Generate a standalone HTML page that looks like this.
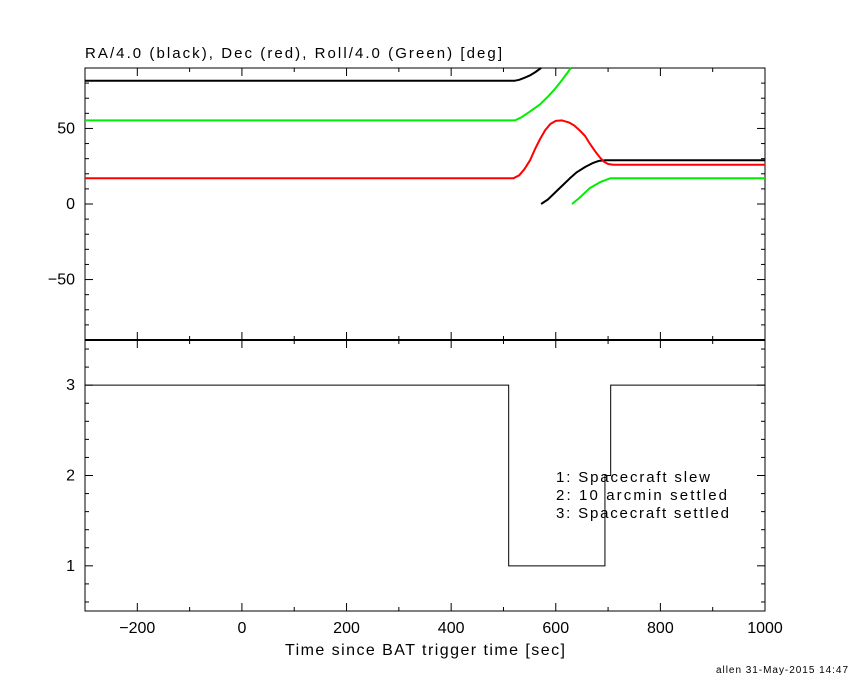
<!DOCTYPE html>
<html><head><meta charset="utf-8"><style>
body{margin:0;background:#fff;}
svg{display:block;font-family:"Liberation Sans",sans-serif;}
</style></head><body>
<svg id="chart" width="850" height="680">
<text x="85" y="58" font-size="15" textLength="417" lengthAdjust="spacing">RA/4.0 (black), Dec (red), Roll/4.0 (Green) [deg]</text>
<text x="285" y="655" font-size="16" textLength="280" lengthAdjust="spacing">Time since BAT trigger time [sec]</text>
<text x="716" y="673" font-size="10" textLength="132" lengthAdjust="spacing">allen 31-May-2015 14:47</text>
<g id="legend" font-size="15">
<text x="556" y="482" textLength="154" lengthAdjust="spacing">1: Spacecraft slew</text>
<text x="556" y="500" textLength="171" lengthAdjust="spacing">2: 10 arcmin settled</text>
<text x="556" y="518" textLength="173" lengthAdjust="spacing">3: Spacecraft settled</text>
</g>
</svg>
<script>
const xTicks=[-200,0,200,400,600,800,1000];
const topTicks=[-50,0,50];
const botTicks=[1,2,3];
const raT1=[-300,522,530,540,550,560,572];
const raV1=[81.6,81.6,82.2,83.5,85,87,90];
const raT2=[572,585,600,615,627,640,656,670,682,695,1000];
const raV2=[0,3,8,13,17,21,24.5,27,28.5,29,29];
const rollT1=[-300,522,535,550,570,585,598,612,629];
const rollV1=[55.3,55.3,57.5,61,66,71,76,82,90];
const rollT2=[631,645,665,685,704,1000];
const rollV2=[0,4,10.5,14.5,17,17];
const decT=[-300,519,530,540,551,560,570,580,590,600,612,625,635,645,656,665,675,684,692,700,710,1000];
const decV=[17,17,19,23,29,36,43,49,53,55,55.3,54,52,49,45,40,35,31,28,26.5,26,26];
const stateT=[-300,510,694,705,1000];
const stateV=[3,1,2,3,3];

const NS="http://www.w3.org/2000/svg";
const svg=document.getElementById('chart');
const L=85,R=765,T1=68,B1=340,T2=340,B2=611;
const X=t=>L+(t+300)/1300*(R-L);
const Y1=v=>T1+(90-v)/180*(B1-T1);
const Y2=v=>T2+(3.5-v)/3*(B2-T2);
function mk(tag,a){const e=document.createElementNS(NS,tag);for(const k in a)e.setAttribute(k,a[k]);svg.appendChild(e);return e;}
function ln(x1,y1,x2,y2,w){return mk('line',{x1,y1,x2,y2,stroke:'#000','stroke-width':w||1});}
let f=mk('rect',{x:L,y:T1,width:R-L,height:B2-T1,fill:'none',stroke:'#000','stroke-width':1});


let d=ln(L,B1,R,B1,2);


for(let t=-300;t<=1000;t+=100){const x=X(t);const major=t%200===0;const h=major?8:4;
 [T1,B1,B2].forEach(y=>{ if(y!==T1)ln(x,y-h,x,y); if(y!==B2)ln(x,y,x,y+h);});}
xTicks.forEach(t=>{const e=mk('text',{x:X(t),y:633,'font-size':16,'text-anchor':'middle'});e.textContent=(t<0?'\u2212'+(-t):t);
 
 });
for(let v=-80;v<=80;v+=10){const y=Y1(v);const h=v%50===0?8:4;ln(L,y,L+h,y);ln(R-h,y,R,y);}
topTicks.forEach(v=>{const e=mk('text',{x:75,y:Y1(v)+5,'font-size':16,'text-anchor':'end'});e.textContent=(v<0?'\u2212'+(-v):v);
 
 });
for(let i=3;i<=17;i++){const v=i/5;const y=Y2(v);const h=(i%5===0)?8:4;ln(L,y,L+h,y);ln(R-h,y,R,y);}
botTicks.forEach(v=>{const e=mk('text',{x:75,y:Y2(v)+5,'font-size':16,'text-anchor':'end'});e.textContent=v;
 
 });
function series(ts,vs,col,name){const p=ts.map((t,i)=>X(t).toFixed(1)+','+Y1(vs[i]).toFixed(1)).join(' ');
 const e=mk('polyline',{points:p,fill:'none',stroke:col,'stroke-width':2,'stroke-linejoin':'round'});
 
 }
series(raT1,raV1,'#000','ra-line');
series(raT2,raV2,'#000','ra-line-wrapped');
series(rollT1,rollV1,'#00ee00','roll-line');
series(rollT2,rollV2,'#00ee00','roll-line-wrapped');
series(decT,decV,'#ff0000','dec-line');
let pts=[];for(let i=0;i<stateT.length-1;i++){pts.push(X(stateT[i])+','+Y2(stateV[i]));pts.push(X(stateT[i+1])+','+Y2(stateV[i]));}
const s=mk('polyline',{points:pts.join(' '),fill:'none',stroke:'#000','stroke-width':1});


</script>
</body></html>
